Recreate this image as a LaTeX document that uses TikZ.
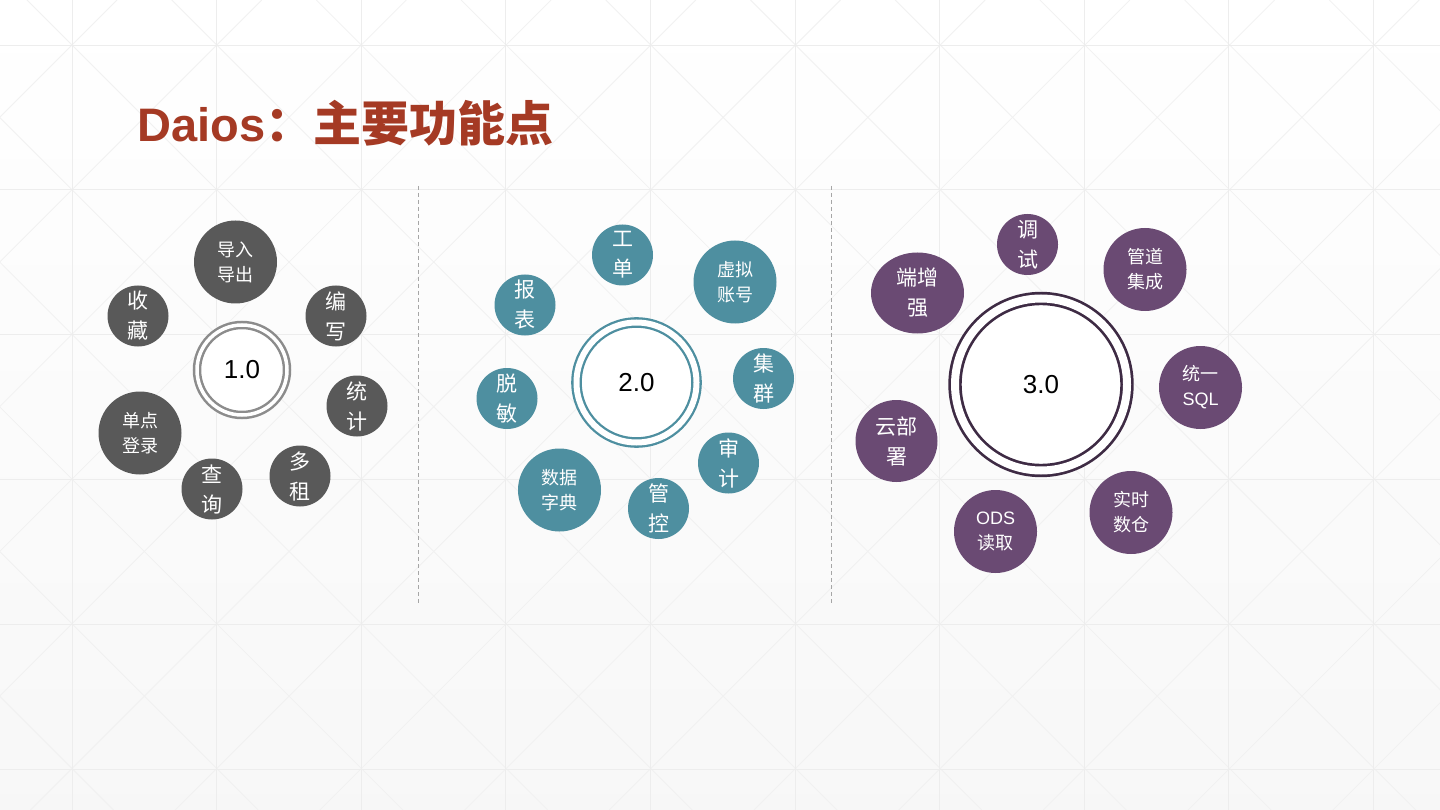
\documentclass[tikz,border=0pt]{standalone}
\usepackage{fontspec}
\usepackage{xcolor}
\usetikzlibrary{shapes.geometric}
\setmainfont{Liberation Sans}
\newfontfamily\cjk{Noto Sans CJK SC}
\newfontfamily\lat{Liberation Sans}
\definecolor{titlered}{RGB}{165,58,36}
\definecolor{gridgray}{RGB}{237,237,237}
\definecolor{diaggray}{RGB}{241,241,241}
\definecolor{onegray}{RGB}{89,89,89}
\definecolor{onering}{RGB}{140,140,140}
\definecolor{twoteal}{RGB}{78,143,160}
\definecolor{threeplum}{RGB}{106,74,115}
\definecolor{threering}{RGB}{62,43,68}

\begin{document}
\begin{tikzpicture}[x=1pt, y=-1pt,
  gridline/.style={draw=gridgray, line width=0.8pt},
  diagline/.style={draw=diaggray, line width=0.8pt},
  divider/.style={draw=black!35, line width=0.8pt, dash pattern=on 4pt off 3pt},
  hub/.style={circle, fill=white, double=white, inner sep=0pt,
    font=\lat\fontsize{26}{30}\selectfont},
  petal/.style={circle, inner sep=0pt, minimum size=61pt, text=white, align=center,
    font=\cjk\fontsize{21}{30}\selectfont},
  wide/.style={minimum size=83pt, font=\cjk\fontsize{18}{25}\selectfont}
]
\useasboundingbox (0,0) rectangle (1440,810);
\shade[top color=white, middle color=white, bottom color=black!3] (0,0) rectangle (1440,810);

% background lattice
\begin{scope}
\clip (0,0) rectangle (1440,810);
\foreach \k in {-6,...,10} \draw[diagline] ({27+144.7*\k},0) -- ++(810,810);
\foreach \k in {0,...,15} \draw[diagline] ({117+144.7*\k},0) -- ++(-810,810);
\foreach \i in {0,...,9} \draw[gridline] ({72+144.6*\i},0) -- ++(0,810);
\foreach \j in {0,...,5} \draw[gridline] (0,{45+144.8*\j}) -- ++(1440,0);
\end{scope}

\node[anchor=base west, inner sep=0pt, text=titlered] (title) at (137,142)
  {\lat\bfseries\fontsize{47}{52}\selectfont Daios{\cjk\fontsize{48}{52}\selectfont ：主要功能点}};

\draw[divider] (418,186) -- (418,603);
\draw[divider] (831,186) -- (831,603);

% 1.0
\node[hub, draw=onering, line width=2.5pt, double distance=3.5pt, minimum size=90pt] (hub1) at (242,370) {1.0};
\node[petal, wide, fill=onegray] (io) at (235.5,262) {导入\\导出};
\node[petal, fill=onegray] (fav) at (138,316) {收\\藏};
\node[petal, fill=onegray] (edit) at (336,316) {编\\写};
\node[petal, fill=onegray] (stat) at (357,406) {统\\计};
\node[petal, fill=onegray] (tenant) at (300,476) {多\\租};
\node[petal, fill=onegray] (query) at (212,489) {查\\询};
\node[petal, wide, fill=onegray] (sso) at (140,433) {单点\\登录};

% 2.0
\node[hub, draw=twoteal, line width=2.3pt, double distance=6pt, minimum size=120pt] (hub2) at (636.5,382.5) {2.0};
\node[petal, fill=twoteal] (ticket) at (622.5,255) {工\\单};
\node[petal, wide, fill=twoteal] (vacct) at (735,282) {虚拟\\账号};
\node[petal, fill=twoteal] (report) at (525,305) {报\\表};
\node[petal, fill=twoteal] (cluster) at (763.5,378.5) {集\\群};
\node[petal, fill=twoteal] (mask) at (507,398.5) {脱\\敏};
\node[petal, fill=twoteal] (audit) at (728.5,463) {审\\计};
\node[petal, fill=twoteal] (ctrl) at (658.5,508.5) {管\\控};
\node[petal, wide, fill=twoteal] (dict) at (559.5,490) {数据\\字典};

% 3.0
\node[hub, draw=threering, line width=2.7pt, double distance=8pt, minimum size=172pt] (hub3) at (1041,384.5) {3.0};
\node[petal, fill=threeplum] (debug) at (1027.5,244.5) {调\\试};
\node[petal, wide, fill=threeplum] (pipe) at (1145,269.5) {管道\\集成};
\node[petal, ellipse, minimum width=93pt, minimum height=81pt, fill=threeplum] (client) at (917.5,293) {端增\\强};
\node[petal, wide, fill=threeplum] (usql) at (1200.5,387.5) {统一\\{\lat SQL}};
\node[petal, minimum size=82pt, fill=threeplum] (cloud) at (896.5,441) {云部\\署};
\node[petal, wide, fill=threeplum] (rtdw) at (1131,512.5) {实时\\数仓};
\node[petal, wide, fill=threeplum] (ods) at (995.5,531.5) {{\lat ODS}\\读取};
\end{tikzpicture}
\end{document}
